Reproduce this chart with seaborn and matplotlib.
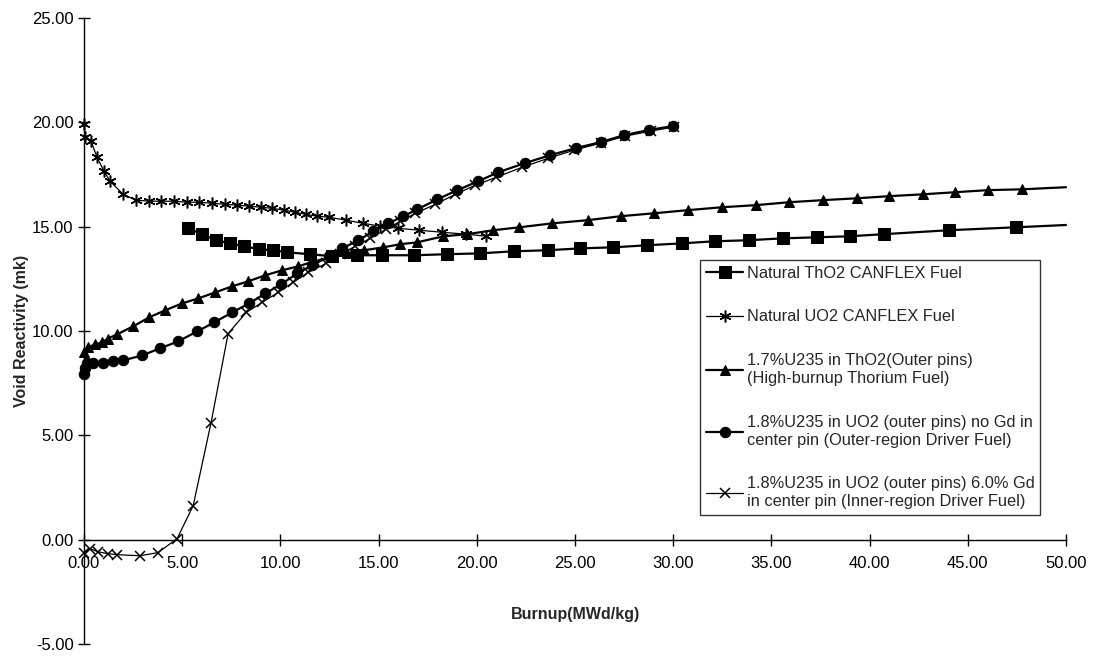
import matplotlib
matplotlib.use("Agg")
import matplotlib.pyplot as plt
import seaborn as sns
import numpy as np
import pandas as pd

# ---- data ----
thnat_x = [5.30, 6.01, 6.73, 7.44, 8.15, 8.92, 9.63, 10.35, 11.52, 12.64, 13.91, 15.19, 16.82, 18.50,
           20.18, 21.87, 23.60, 25.28, 26.96, 28.69, 30.43, 32.11, 33.84, 35.58, 37.31, 38.99, 40.72,
           44.04, 47.45, 50.0]
thnat_y = [14.92, 14.64, 14.35, 14.20, 14.06, 13.92, 13.87, 13.77, 13.68, 13.58, 13.63, 13.63, 13.63,
           13.68, 13.72, 13.82, 13.87, 13.96, 14.01, 14.11, 14.20, 14.30, 14.35, 14.44, 14.49, 14.54,
           14.64, 14.83, 14.97, 15.08]

uo2_x = [0.0, 0.05, 0.36, 0.66, 1.02, 1.33, 1.99, 2.65, 3.31, 3.92, 4.59, 5.25, 5.86, 6.52, 7.19,
         7.80, 8.41, 9.02, 9.58, 10.19, 10.75, 11.31, 11.88, 12.49, 13.35, 14.22, 15.09, 16.00, 17.07,
         18.25, 19.47, 20.49]
uo2_y = [19.91, 19.29, 19.10, 18.33, 17.66, 17.18, 16.55, 16.27, 16.22, 16.22, 16.22, 16.17, 16.17,
         16.12, 16.07, 16.03, 15.98, 15.93, 15.88, 15.79, 15.69, 15.59, 15.50, 15.45, 15.31, 15.16,
         15.02, 14.92, 14.83, 14.73, 14.64, 14.54]

th17_x = [0.0, 0.20, 0.56, 0.92, 1.22, 1.68, 2.50, 3.31, 4.13, 4.99, 5.81, 6.68, 7.54, 8.36, 9.23,
          10.09, 10.91, 11.72, 12.59, 13.40, 14.27, 15.24, 16.11, 16.97, 18.30, 19.52, 20.85, 22.17,
          23.85, 25.64, 27.32, 29.00, 30.73, 32.47, 34.20, 35.88, 37.61, 39.35, 40.98, 42.71, 44.34,
          46.02, 47.76, 50.0]
th17_y = [8.97, 9.21, 9.36, 9.45, 9.64, 9.84, 10.22, 10.65, 10.99, 11.32, 11.56, 11.85, 12.14, 12.38,
          12.67, 12.91, 13.10, 13.34, 13.53, 13.72, 13.87, 14.01, 14.16, 14.25, 14.54, 14.64, 14.83,
          14.97, 15.16, 15.31, 15.50, 15.64, 15.79, 15.93, 16.03, 16.17, 16.27, 16.36, 16.46, 16.55,
          16.65, 16.75, 16.79, 16.89]

nogd_x = [0.0, 0.05, 0.15, 0.46, 0.97, 1.48, 1.99, 2.96, 3.87, 4.79, 5.76, 6.63, 7.54, 8.41, 9.23,
          10.04, 10.86, 11.62, 12.49, 13.15, 13.97, 14.73, 15.50, 16.26, 16.97, 17.99, 19.01, 20.08,
          21.10, 22.43, 23.75, 25.03, 26.30, 27.52, 28.75, 29.97]
nogd_y = [7.92, 8.25, 8.49, 8.49, 8.49, 8.54, 8.59, 8.83, 9.17, 9.50, 9.98, 10.41, 10.89, 11.32,
          11.80, 12.24, 12.76, 13.15, 13.58, 13.96, 14.35, 14.78, 15.16, 15.50, 15.83, 16.31, 16.75,
          17.18, 17.61, 18.04, 18.43, 18.76, 19.05, 19.39, 19.63, 19.82]

gd_x = [0.0, 0.31, 0.71, 1.22, 1.68, 2.85, 3.77, 4.74, 5.56, 6.47, 7.34, 8.26, 9.07, 9.89, 10.65,
        11.42, 12.33, 13.05, 13.81, 14.58, 15.39, 16.11, 16.87, 17.89, 18.91, 19.93, 21.00, 22.32,
        23.65, 24.97, 26.30, 27.57, 28.85, 30.02]
gd_y = [-0.62, -0.43, -0.58, -0.67, -0.72, -0.77, -0.62, 0.05, 1.63, 5.61, 9.88, 10.89, 11.37,
        11.85, 12.33, 12.81, 13.24, 13.68, 14.06, 14.44, 14.88, 15.26, 15.64, 16.07, 16.55, 16.99,
        17.37, 17.85, 18.28, 18.67, 19.00, 19.34, 19.58, 19.77]

labels = [
    "Natural ThO2 CANFLEX Fuel",
    "Natural UO2 CANFLEX Fuel",
    "1.7%U235 in ThO2(Outer pins)\n(High-burnup Thorium Fuel)",
    "1.8%U235 in UO2 (outer pins) no Gd in\ncenter pin (Outer-region Driver Fuel)",
    "1.8%U235 in UO2 (outer pins) 6.0% Gd\nin center pin (Inner-region Driver Fuel)",
]
x_ticks = [0, 5, 10, 15, 20, 25, 30, 35, 40, 45, 50]
y_ticks = [-5, 0, 5, 10, 15, 20, 25]

# ---- style ----
sns.set_style("white")
plt.rcParams["font.family"] = ["Liberation Sans", "DejaVu Sans"]

fig = plt.figure(figsize=(10.94, 6.58), dpi=100)
ax = fig.add_axes([84 / 1094, 1 - 644 / 658, (1066 - 84) / 1094, (644 - 18) / 658])

series = [
    (thnat_x, thnat_y, dict(marker="s", markersize=8, linewidth=1.6), True),
    (uo2_x, uo2_y, dict(marker=(6, 2, 0), markersize=8.5, linewidth=0.9, markeredgewidth=1.1), False),
    (th17_x, th17_y, dict(marker="^", markersize=7.5, linewidth=1.6), True),
    (nogd_x, nogd_y, dict(marker="o", markersize=7.5, linewidth=1.6), False),
    (gd_x, gd_y, dict(marker="x", markersize=7.5, linewidth=0.9, markeredgewidth=1.1), False),
]

for (xs, ys, kw, hide_last), lab in zip(series, labels):
    df = pd.DataFrame({"x": xs, "y": ys})
    n = len(xs)
    me = list(range(n - 1)) if hide_last else None
    sns.lineplot(data=df, x="x", y="y", ax=ax, color="black", sort=False, estimator=None,
                 label=lab, markevery=me, markerfacecolor="black", markeredgecolor="black",
                 clip_on=False, **kw)

ax.set_xlim(0, 50)
ax.set_ylim(-5, 25)
ax.set_xticks(x_ticks)
ax.set_yticks(y_ticks)
ax.xaxis.set_major_formatter(matplotlib.ticker.FormatStrFormatter("%.2f"))
ax.yaxis.set_major_formatter(matplotlib.ticker.FormatStrFormatter("%.2f"))

for s in ["top", "right"]:
    ax.spines[s].set_visible(False)
ax.spines["bottom"].set_position(("data", 0))
ax.spines["left"].set_color("black")
ax.spines["bottom"].set_color("black")
ax.spines["left"].set_linewidth(1.0)
ax.spines["bottom"].set_linewidth(1.0)
ax.tick_params(axis="both", direction="inout", length=9, width=1, color="black",
               labelsize=12, labelcolor="black", left=True, bottom=True)
ax.tick_params(axis="y", pad=3)
ax.tick_params(axis="x", pad=7)

ax.set_xlabel("Burnup(MWd/kg)", fontsize=11.5, fontweight="bold", labelpad=26)
ax.set_ylabel("Void Reactivity (mk)", fontsize=11.5, fontweight="bold", labelpad=2)

h, l = ax.get_legend_handles_labels()
leg = ax.legend(h, l, loc="upper left", bbox_to_anchor=((700 - 84) / 982, (644 - 260) / 626),
                borderaxespad=0, frameon=True, fancybox=False, fontsize=11.8, labelspacing=1.75,
                handlelength=2.3, handletextpad=0.2, borderpad=0.35)
for t in leg.get_texts():
    t.set_linespacing(1.25)
leg.get_frame().set_edgecolor("black")
leg.get_frame().set_linewidth(1.0)

fig.savefig("out.png", dpi=100)
